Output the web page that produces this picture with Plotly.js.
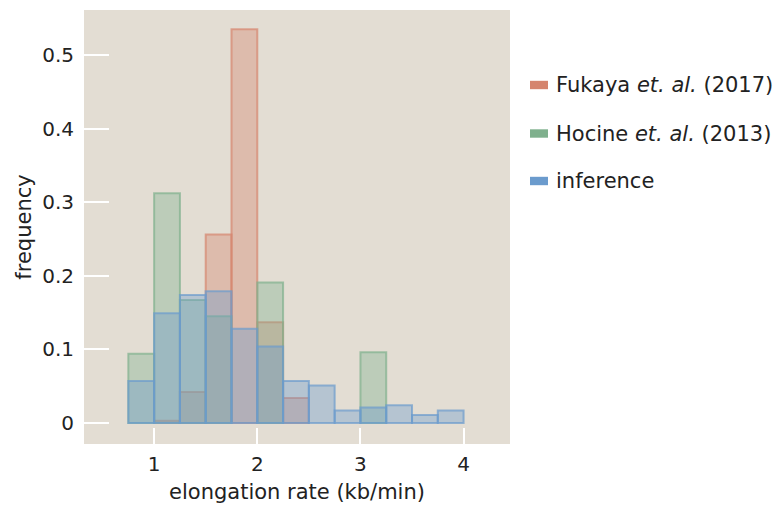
<!DOCTYPE html>
<html>
<head>
<meta charset="utf-8">
<script src="https://cdn.plot.ly/plotly-3.0.1.min.js"></script>
<style>html,body{margin:0;padding:0;background:#fff;}#chart{width:774px;height:508px;}</style>
</head>
<body>
<div id="chart"></div>
<script>
// bin centers (kb/min), bin width 0.25
const binCenters = [0.875, 1.125, 1.375, 1.625, 1.875, 2.125, 2.375, 2.625, 2.875, 3.125, 3.375, 3.625, 3.875];
const binWidth = 0.25;
const fukaya = [0, 0.003, 0.042, 0.256, 0.535, 0.137, 0.034, 0, 0, 0, 0, 0, 0];
const hocine = [0.094, 0.312, 0.167, 0.145, 0, 0.191, 0, 0, 0, 0.096, 0, 0, 0];
const inference = [0.057, 0.149, 0.174, 0.179, 0.128, 0.104, 0.057, 0.051, 0.017, 0.021, 0.024, 0.011, 0.017];
const seriesNames = ['Fukaya <i>et. al.</i> (2017)', 'Hocine <i>et. al.</i> (2013)', 'inference'];
const seriesColors = [[213,132,109], [127,176,141], [107,155,205]];

const W = 774, H = 508, L = 84, R = 264, T = 10, B = 64;
const pw = W - L - R, ph = H - T - B;
const px2x = p => (p - L) / pw;
const py2y = p => (H - B - p) / ph;

function mk(vals, name, c) {
  const xs = [], ys = [];
  vals.forEach((v, i) => { if (v > 0) { xs.push(binCenters[i]); ys.push(v); } });
  return {
    type: 'bar', x: xs, y: ys, width: binWidth, name: name, showlegend: false,
    marker: {color: `rgba(${c[0]},${c[1]},${c[2]},0.38)`,
             line: {color: `rgba(${c[0]},${c[1]},${c[2]},0.7)`, width: 2}},
    hoverinfo: 'x+y'
  };
}
const data = [mk(fukaya, seriesNames[0], seriesColors[0]),
              mk(hocine, seriesNames[1], seriesColors[1]),
              mk(inference, seriesNames[2], seriesColors[2])];
const tickFont = {family: 'DejaVu Sans, sans-serif', size: 20, color: '#222'};
const textFont = {family: 'DejaVu Sans, sans-serif', size: 21, color: '#222'};

// manual legend (wide colour swatches)
const legendY = [85, 133.5, 181];
const shapes = [], annotations = [];
seriesNames.forEach((n, i) => {
  const c = seriesColors[i];
  shapes.push({type: 'rect', xref: 'paper', yref: 'paper',
    x0: px2x(530), x1: px2x(548), y0: py2y(legendY[i] + 4.2), y1: py2y(legendY[i] - 4.2),
    fillcolor: `rgb(${c[0]},${c[1]},${c[2]})`, line: {width: 0}});
  annotations.push({xref: 'paper', yref: 'paper', x: px2x(554), y: py2y(legendY[i]),
    xanchor: 'left', yanchor: 'middle', showarrow: false, text: n, font: textFont});
});

const layout = {
  width: W, height: H,
  margin: {l: L, r: R, t: T, b: B},
  paper_bgcolor: '#ffffff', plot_bgcolor: '#e3ddd3',
  barmode: 'overlay', bargap: 0,
  font: tickFont,
  xaxis: {range: [0.32, 4.45], tickvals: [1,2,3,4], ticktext: ['1','2','3','4'],
          ticks: 'inside', ticklen: 16, tickwidth: 2, tickcolor: '#ffffff',
          ticklabelstandoff: 6, tickfont: tickFont,
          showgrid: false, zeroline: false, showline: false,
          title: {text: 'elongation rate (kb/min)', font: textFont, standoff: 9}},
  yaxis: {range: [-0.0285, 0.561], tickvals: [0,0.1,0.2,0.3,0.4,0.5], ticktext: ['0','0.1','0.2','0.3','0.4','0.5'],
          ticks: 'inside', ticklen: 25, tickwidth: 2, tickcolor: '#ffffff',
          ticklabelstandoff: 9, tickfont: tickFont,
          showgrid: false, zeroline: false, showline: false,
          title: {text: 'frequency', font: textFont, standoff: 4}},
  shapes: shapes, annotations: annotations,
  showlegend: false
};
Plotly.newPlot('chart', data, layout, {displayModeBar: false, staticPlot: true});
</script>
</body>
</html>
